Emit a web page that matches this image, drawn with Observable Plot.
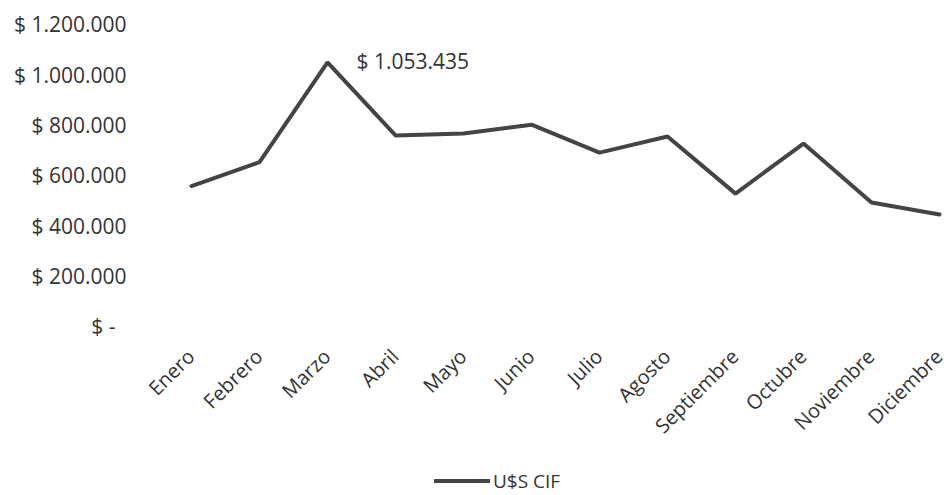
<!DOCTYPE html>
<html><head><meta charset="utf-8">
<script src="https://cdn.jsdelivr.net/npm/d3@7"></script>
<script src="https://cdn.jsdelivr.net/npm/@observablehq/plot@0.6"></script>
<style>
body{margin:0;background:#fff;font-family:"Open Sans",sans-serif;}
#wrap{position:relative;width:947px;height:495px;}
#legend{position:absolute;left:434px;top:468px;height:26px;line-height:26px;display:flex;align-items:center;font-size:19px;color:#333;}
#legend .sw{width:56px;height:4px;background:#444;margin-right:3px;}
</style>
</head><body><div id="wrap"><div id="chart"></div><div id="legend"><span class="sw"></span><span>U$S CIF</span></div></div>
<script>
const months = ["Enero","Febrero","Marzo","Abril","Mayo","Junio","Julio","Agosto","Septiembre","Octubre","Noviembre","Diciembre"];
const values = [562000, 657000, 1053435, 763000, 771000, 806000, 695000, 759000, 532000, 731000, 497000, 449000];
const yTicks = [0, 200000, 400000, 600000, 800000, 1000000, 1200000];
const annotations = [{month: "Marzo", value: 1053435, label: "$ 1.053.435"}];

const data = months.map((m, i) => ({month: m, value: values[i]}));
const fmt = v => v === 0 ? "$ -\u00a0\u00a0" : "$ " + d3.format(",")(v).replace(/,/g, ".");

const chart = Plot.plot({
  width: 947, height: 447,
  marginLeft: 188, marginRight: 6, marginTop: 25, marginBottom: 120,
  style: {fontFamily: "Open Sans", fontSize: "21px", color: "#333", background: "#fff"},
  x: {type: "point", domain: months, padding: 0, label: null},
  y: {domain: [0, 1200000], label: null},
  marks: [
    Plot.axisY({ticks: yTicks, tickSize: 0, tickPadding: 62, tickFormat: fmt, fontSize: 21, label: null}),
    Plot.axisX({tickSize: 0, tickRotate: -45, tickPadding: 26, fontSize: 20, label: null}),
    Plot.line(data, {x: "month", y: "value", stroke: "#444", strokeWidth: 4, strokeLinejoin: "miter"}),
    Plot.text(annotations, {x: "month", y: "value", text: "label", textAnchor: "start", dx: 29, fontSize: 21, fill: "#333"})
  ]
});
document.getElementById("chart").appendChild(chart);
</script>
</body></html>
